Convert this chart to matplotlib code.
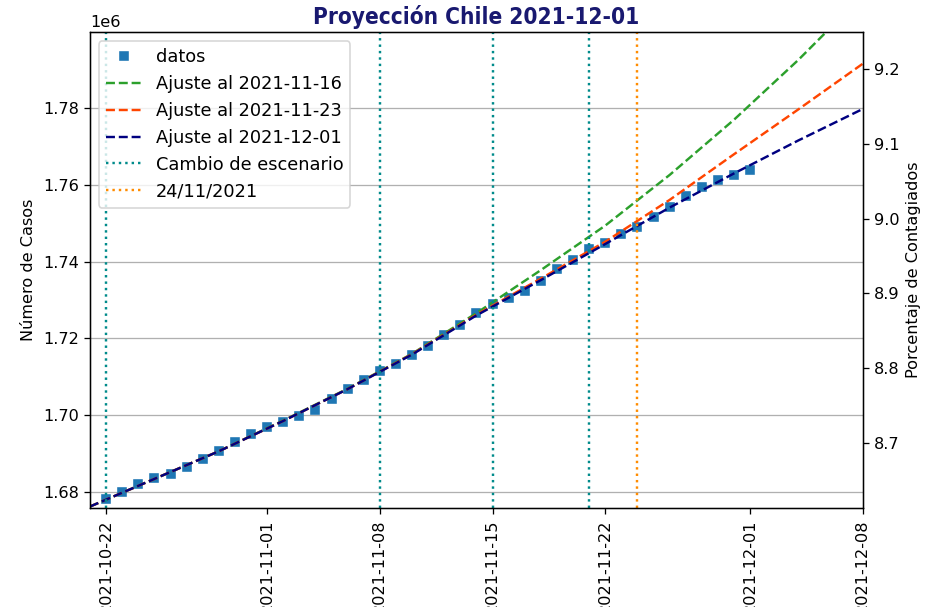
import matplotlib
matplotlib.use("Agg")
import matplotlib.pyplot as plt
import matplotlib.dates as mdates
import numpy as np
import pandas as pd

POBLACION = 19458310

# casos diarios observados (millones)
fechas = pd.date_range("2021-10-22", "2021-12-01", freq="D")
casos = np.array([
    1.6782, 1.6801, 1.6820, 1.6836, 1.6847, 1.6866, 1.6885, 1.6907, 1.6929, 1.6950,
    1.6970, 1.6983, 1.6998, 1.7014, 1.7042, 1.7068, 1.7092, 1.7116, 1.7133, 1.7157,
    1.7181, 1.7209, 1.7235, 1.7265, 1.7289, 1.7306, 1.7323, 1.7349, 1.7380, 1.7404,
    1.7432, 1.7449, 1.7471, 1.7491, 1.7517, 1.7543, 1.7572, 1.7595, 1.7613, 1.7627,
    1.7640,
]) * 1e6

# curvas de ajuste leidas cada 4 dias
fechas_ajuste = pd.to_datetime([
    "2021-10-21", "2021-10-25", "2021-10-29", "2021-11-02", "2021-11-06",
    "2021-11-10", "2021-11-14", "2021-11-18", "2021-11-22", "2021-11-26",
    "2021-11-30", "2021-12-04", "2021-12-08",
])
ajuste_1116 = np.array([1.6762, 1.6834, 1.6906, 1.6986, 1.7069, 1.7160, 1.7266,
                        1.7378, 1.7494, 1.7626, 1.7770, 1.7926, 1.8094]) * 1e6
ajuste_1123 = np.array([1.6762, 1.6834, 1.6906, 1.6985, 1.7068, 1.7159, 1.7262,
                        1.7356, 1.7452, 1.7561, 1.7680, 1.7797, 1.7916]) * 1e6
ajuste_1201 = np.array([1.6762, 1.6834, 1.6906, 1.6985, 1.7068, 1.7158, 1.7260,
                        1.7352, 1.7446, 1.7541, 1.7630, 1.7716, 1.7798]) * 1e6

cambios = pd.to_datetime(["2021-10-22", "2021-11-08", "2021-11-15", "2021-11-21"])
fecha_hoy = pd.Timestamp("2021-11-24")

DPI = 116
fig = plt.figure(figsize=(930 / DPI, 607 / DPI), dpi=DPI)
ax = fig.add_axes([0.0968, 0.163, 0.831, 0.784])

ax.plot(fechas, casos, "s", color="#1f77b4", ms=5.5, label="datos")
ax.plot(fechas_ajuste, ajuste_1116, "--", color="#2ca02c", label="Ajuste al 2021-11-16")
ax.plot(fechas_ajuste, ajuste_1123, "--", color="orangered", label="Ajuste al 2021-11-23")
ax.plot(fechas_ajuste, ajuste_1201, "--", color="navy", label="Ajuste al 2021-12-01")
for i, f in enumerate(cambios):
    ax.axvline(f, linestyle=":", color="darkcyan",
               label="Cambio de escenario" if i == 0 else None)
ax.axvline(fecha_hoy, linestyle=":", color="darkorange", label="24/11/2021")

ax.set_xlim(pd.Timestamp("2021-10-21"), pd.Timestamp("2021-12-08"))
ylim = (1.6758e6, 1.7998e6)
ax.set_ylim(*ylim)
ax.set_ylabel("Número de Casos")
ax.grid(axis="y")
ax.xaxis.set_major_locator(mdates.DayLocator(bymonthday=[1, 8, 15, 22]))
ax.xaxis.set_major_formatter(mdates.DateFormatter("%Y-%m-%d"))
plt.setp(ax.get_xticklabels(), rotation=90)
ax.legend(loc="upper left", fontsize=11)
ax.set_title("Proyección Chile 2021-12-01", fontweight="bold", color="midnightblue",
             fontsize=14, fontstretch="condensed", pad=5)

ax2 = ax.twinx()
ax2.set_ylim(ylim[0] / POBLACION * 100, ylim[1] / POBLACION * 100)
ax2.set_ylabel("Porcentaje de Contagiados")

fig.savefig("out.png", dpi=DPI)
